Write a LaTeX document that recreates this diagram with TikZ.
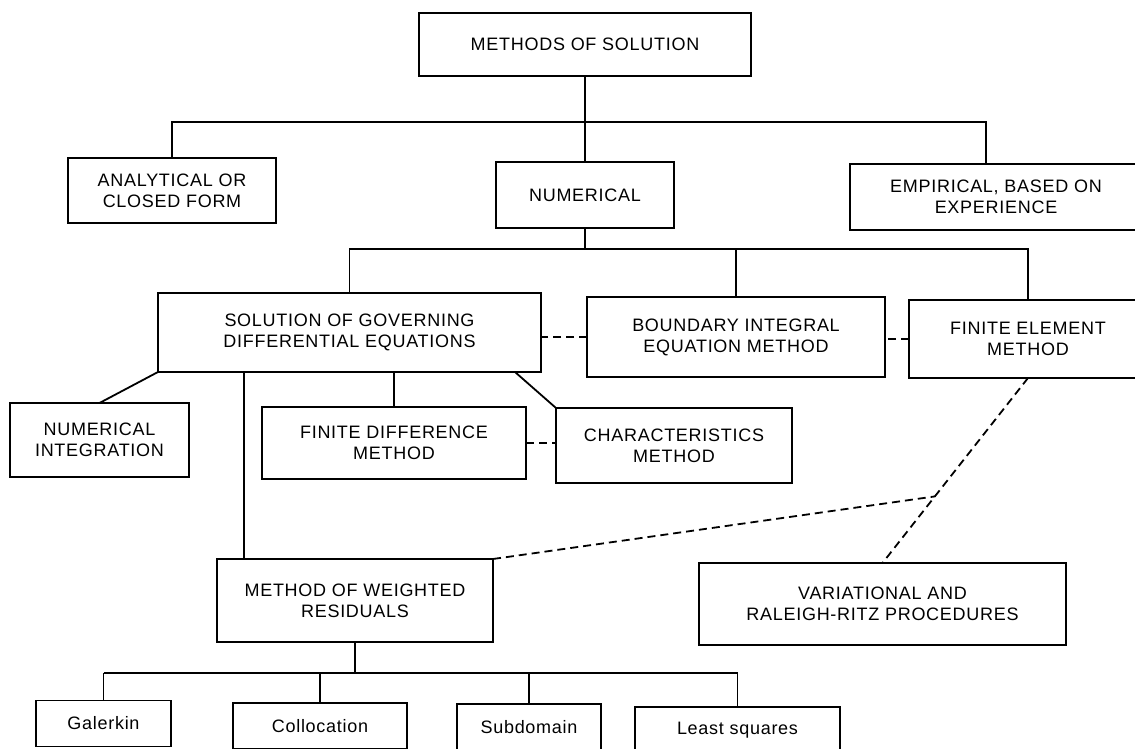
\documentclass[tikz,border=0pt]{standalone}
\usepackage{fontspec}
\setmainfont{Liberation Sans}[LetterSpace=4]
\begin{document}
\begin{tikzpicture}[x=0.5pt, y=-0.5pt, line width=0.9pt,
    box/.style={draw, fill=white, align=center, inner sep=0pt, outer sep=0pt,
      font=\fontsize{9}{10.5}\selectfont},
    wh/.style 2 args={minimum width=#1*0.5pt, minimum height=#2*0.5pt},
    link/.style={dash pattern=on 4pt off 2.5pt}]
    \useasboundingbox (0,0) rectangle (1135,749);
    \clip (0,0) rectangle (1135,749);

    % top level
    \node[box, wh={332}{63}] (methods) at (585,44.5) {METHODS OF SOLUTION};
    \node[box, wh={208}{65}] (analytical) at (172,190.5) {ANALYTICAL OR\\CLOSED FORM};
    \node[box, wh={178}{66}] (numerical) at (585,195) {NUMERICAL};
    \node[box, wh={292}{66}] (empirical) at (996,197) {EMPIRICAL, BASED ON\\EXPERIENCE};

    % numerical methods
    \node[box, wh={383}{79}] (solution) at (349.5,332.5) {SOLUTION OF GOVERNING\\DIFFERENTIAL EQUATIONS};
    \node[box, wh={298}{80}] (boundary) at (736,337) {BOUNDARY INTEGRAL\\EQUATION METHOD};
    \node[box, wh={238}{78}] (fem) at (1028,339) {FINITE ELEMENT\\METHOD};

    \node[box, wh={179}{74}] (numint) at (99.5,440) {NUMERICAL\\INTEGRATION};
    \node[box, wh={264}{72}] (fd) at (394,443) {FINITE DIFFERENCE\\METHOD};
    \node[box, wh={236}{75}] (char) at (674,445.5) {CHARACTERISTICS\\METHOD};

    \node[box, wh={276}{83}] (mwr) at (355,600.5) {METHOD OF WEIGHTED\\RESIDUALS};
    \node[box, wh={367}{82}] (var) at (882.5,604) {VARIATIONAL AND\\RALEIGH-RITZ PROCEDURES};

    % tree lines
    \coordinate (bus1) at (585,122);
    \coordinate (bus2) at (585,249);
    \coordinate (bus3) at (355,673);
    \coordinate (mwrtop) at (244,559);
    \draw (methods.south) -- (numerical.north);
    \draw (analytical.north) |- (bus1) -| ([xshift=-5pt]empirical.north);
    \draw (numerical.south) -- (bus2);
    \draw (solution.north) |- (bus2) -| (fem.north);
    \draw (boundary.north) -- (boundary.north |- bus2);
    \draw (solution.south west) -- (numint.north);
    \draw (fd.north) -- (fd.north |- solution.south);
    \draw ([xshift=-13pt]solution.south east) -- (char.north west);
    \draw (mwrtop) -- (mwrtop |- solution.south);
    \draw (mwr.south) -- (bus3);

    % dashed links
    \draw[link] (boundary.west) -- (boundary.west -| solution.east);
    \draw[link] (fem.west) -- (fem.west -| boundary.east);
    \draw[link] (fd.east) -- (fd.east -| char.west);
    \draw[link] (fem.south) -- coordinate[pos=0.64] (meet) (var.north);
    \draw[link] (mwr.north east) -- (meet);

    % weighted residual variants
    \foreach \n/\x/\y/\w/\t in {galerkin/103.5/723.5/135/Galerkin, colloc/320/726/174/Collocation,
        subdom/529/727/144/Subdomain, least/737.5/730/205/Least squares} {
      \node[box, wh={\w}{46}] (\n) at (\x,\y) {\t};
      \draw (\n.north) -- (\n.north |- bus3);
    }
    \draw (galerkin.north |- bus3) -- (least.north |- bus3);
\end{tikzpicture}
\end{document}
